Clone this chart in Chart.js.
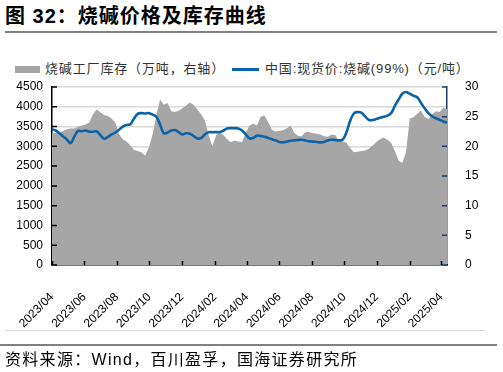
<!DOCTYPE html>
<html lang="zh-CN">
<head>
<meta charset="utf-8">
<title>烧碱价格及库存曲线</title>
<script src="https://cdn.jsdelivr.net/npm/chart.js@4.4.1/dist/chart.umd.min.js"></script>
<style>
  html, body { margin: 0; padding: 0; background: #fff; }
  #wrap { position: relative; width: 503px; height: 372px; overflow: hidden; }
  #chart { position: absolute; left: 0; top: 0; }
  .title {
    position: absolute; left: 5px; top: 4px;
    font: bold 20px/24px "Liberation Sans", "Noto Sans CJK SC", sans-serif;
    letter-spacing: 1px; color: #000; white-space: nowrap;
  }
  .rule { position: absolute; }
  .rule.top { left: 5px; top: 31px; width: 492px; height: 2px; background: #808080; }
  .rule.light { left: 5px; top: 330px; width: 480px; height: 1px; background: #d9d9d9; }
  .rule.bottom { left: 0; top: 344px; width: 497px; height: 2px; background: #808080; }
  .legend {
    position: absolute; top: 61px; height: 16px;
    font: 13px/16px "Liberation Sans", "Noto Sans CJK SC", sans-serif;
    letter-spacing: 0.85px; color: #333; white-space: nowrap;
  }
  .swatch { position: absolute; }
  .source {
    position: absolute; left: 5px; top: 350px;
    font: 16px/20px "Liberation Sans", "Noto Sans CJK SC", sans-serif;
    letter-spacing: 1.3px; color: #000; white-space: nowrap;
  }
</style>
</head>
<body>
<div id="wrap">
  <div class="title">图 32：烧碱价格及库存曲线</div>
  <div class="rule top"></div>
  <div class="swatch" style="left:15px;top:66px;width:25px;height:7px;background:#a6a6a6"></div>
  <div class="legend" style="left:45px">烧碱工厂库存（万吨，右轴）</div>
  <div class="swatch" style="left:232px;top:68px;width:27px;height:3px;background:#0a62a9"></div>
  <div class="legend" style="left:265px">中国:现货价:烧碱(99%)（元/吨）</div>
  <canvas id="chart" width="503" height="372"></canvas>
  <div class="rule light"></div>
  <div class="rule bottom"></div>
  <div class="source">资料来源：Wind，百川盈孚，国海证券研究所</div>
</div>
<script>
// weekly samples starting 2023-04-01
const startDate = Date.UTC(2023, 3, 1);
const weekDays = 7;

const tickLabels = [
  "2023/04", "2023/06", "2023/08", "2023/10", "2023/12", "2024/02", "2024/04",
  "2024/06", "2024/08", "2024/10", "2024/12", "2025/02", "2025/04",
];

// 烧碱工厂库存（万吨，右轴）
const inventory = [
  22.3, 22.2, 22.3, 22.6, 22.9, 23.0, 23.0, 23.3, 23.5, 23.7,
  24.0, 25.4, 26.2, 25.7, 25.3, 25.1, 24.7, 24.0, 22.0, 21.2,
  20.8, 20.2, 19.4, 19.2, 19.0, 18.4, 19.8, 22.0, 25.2, 27.9,
  27.0, 27.3, 25.9, 25.8, 26.0, 26.4, 26.9, 27.4, 27.0, 26.2,
  25.4, 24.4, 22.0, 20.0, 21.8, 22.4, 21.9, 21.2, 20.7, 21.0,
  20.8, 20.7, 22.3, 23.5, 23.8, 23.5, 25.0, 25.2, 24.1, 22.8,
  22.5, 22.6, 22.7, 23.0, 23.5, 22.3, 21.8, 21.7, 22.4, 22.4,
  22.2, 22.1, 22.0, 21.7, 21.6, 22.0, 21.9, 20.9, 20.8, 20.6,
  19.7, 19.0, 19.1, 19.2, 19.3, 19.6, 20.1, 20.7, 21.2, 21.5,
  21.1, 20.6, 19.2, 17.6, 17.2, 19.0, 24.7, 24.9, 25.5, 26.0,
  25.0, 24.6, 25.4, 25.9, 25.8, 26.5, 26.3,
];

// 中国:现货价:烧碱(99%)（元/吨）
const price = [
  3430, 3400, 3330, 3250, 3170, 3080, 3250, 3390, 3380, 3400,
  3370, 3370, 3380, 3280, 3190, 3240, 3300, 3350, 3420, 3500,
  3540, 3560, 3700, 3820, 3840, 3830, 3840, 3800, 3750, 3550,
  3330, 3350, 3400, 3410, 3360, 3300, 3330, 3320, 3260, 3200,
  3210, 3300, 3356, 3356, 3360, 3360, 3400, 3450, 3460, 3460,
  3450, 3400, 3300, 3200, 3210, 3270, 3260, 3240, 3210, 3180,
  3150, 3110, 3100, 3120, 3140, 3150, 3160, 3165, 3150, 3125,
  3120, 3110, 3100, 3110, 3150, 3165, 3160, 3150, 3170, 3350,
  3640, 3830, 3865, 3850, 3760, 3670, 3665, 3690, 3720, 3745,
  3775, 3840, 4020, 4180, 4330, 4373, 4330, 4280, 4240, 4100,
  3960, 3840, 3760, 3710, 3670, 3630, 3600,
];

const palette = {
  area: "#a6a6a6",
  line: "#0a62a9",
  grid: "#d9d9d9",
  rightAxis: "#1f3b73",
  text: "#000000",
};

const font = { family: "'Liberation Sans', Arial, sans-serif", size: 12 };

const dayOfLabel = (label) => {
  const [y, m] = label.split("/").map(Number);
  return (Date.UTC(y, m - 1, 1) - startDate) / 86400000;
};
const tickDays = tickLabels.map(dayOfLabel);
const toPoints = (values) => values.map((v, i) => ({ x: i * weekDays, y: v }));
const lastDay = (price.length - 1) * weekDays;

// tick marks pointing into the plot, like the original
const innerTicks = {
  id: "innerTicks",
  afterDatasetsDraw(chart) {
    const { ctx, chartArea, scales } = chart;
    const { left, right, bottom } = chartArea;
    ctx.save();
    ctx.lineWidth = 1.5;
    ctx.strokeStyle = "#000";
    ctx.beginPath();
    scales.x.ticks.forEach((t) => {
      const px = Math.round(scales.x.getPixelForValue(t.value)) + 0.5;
      ctx.moveTo(px, bottom);
      ctx.lineTo(px, bottom - 4);
    });
    scales.y.ticks.forEach((t) => {
      const py = scales.y.getPixelForValue(t.value);
      ctx.moveTo(left, py);
      ctx.lineTo(left + 5, py);
    });
    ctx.stroke();
    ctx.strokeStyle = palette.rightAxis;
    ctx.beginPath();
    scales.y1.ticks.forEach((t) => {
      const py = scales.y1.getPixelForValue(t.value);
      ctx.moveTo(right - 5, py);
      ctx.lineTo(right, py);
    });
    ctx.stroke();
    ctx.restore();
  },
};

new Chart(document.getElementById("chart"), {
  type: "line",
  data: {
    datasets: [
      {
        label: "中国:现货价:烧碱(99%)（元/吨）",
        data: toPoints(price),
        yAxisID: "y",
        borderColor: palette.line,
        borderWidth: 2.6,
        pointRadius: 0,
        tension: 0.4,
        fill: false,
        order: 0,
      },
      {
        label: "烧碱工厂库存（万吨，右轴）",
        data: toPoints(inventory),
        yAxisID: "y1",
        borderWidth: 0,
        borderColor: palette.area,
        backgroundColor: palette.area,
        pointRadius: 0,
        tension: 0,
        fill: "origin",
        order: 1,
      },
    ],
  },
  options: {
    responsive: false,
    animation: false,
    events: [],
    layout: { padding: { top: 87, left: 0, right: 0, bottom: 0 } },
    plugins: {
      legend: { display: false },
      tooltip: { enabled: false },
    },
    scales: {
      x: {
        type: "linear",
        min: 0,
        max: lastDay,
        afterBuildTicks: (scale) => {
          scale.ticks = tickDays.map((value) => ({ value }));
        },
        afterFit: (scale) => {
          scale.height = 107;
        },
        ticks: {
          autoSkip: false,
          minRotation: 45,
          maxRotation: 45,
          padding: 17,
          color: palette.text,
          font,
          callback: (value) => tickLabels[tickDays.indexOf(value)] ?? "",
        },
        grid: { display: false },
        border: { display: true, color: "#000", width: 1.5 },
      },
      y: {
        position: "left",
        min: 0,
        max: 4500,
        afterFit: (scale) => {
          scale.width = 52;
        },
        ticks: {
          stepSize: 500,
          padding: 9,
          color: palette.text,
          font,
          callback: (value) => String(value),
        },
        grid: { color: palette.grid, lineWidth: 1.5, drawTicks: false },
        border: { display: true, color: "#000", width: 1.5 },
      },
      y1: {
        position: "right",
        min: 0,
        max: 30,
        afterFit: (scale) => {
          scale.width = 56;
        },
        ticks: { stepSize: 5, padding: 10, color: palette.text, font },
        grid: { display: false },
        border: { display: true, color: palette.rightAxis, width: 1.5 },
      },
    },
  },
  plugins: [innerTicks],
});
</script>
</body>
</html>
